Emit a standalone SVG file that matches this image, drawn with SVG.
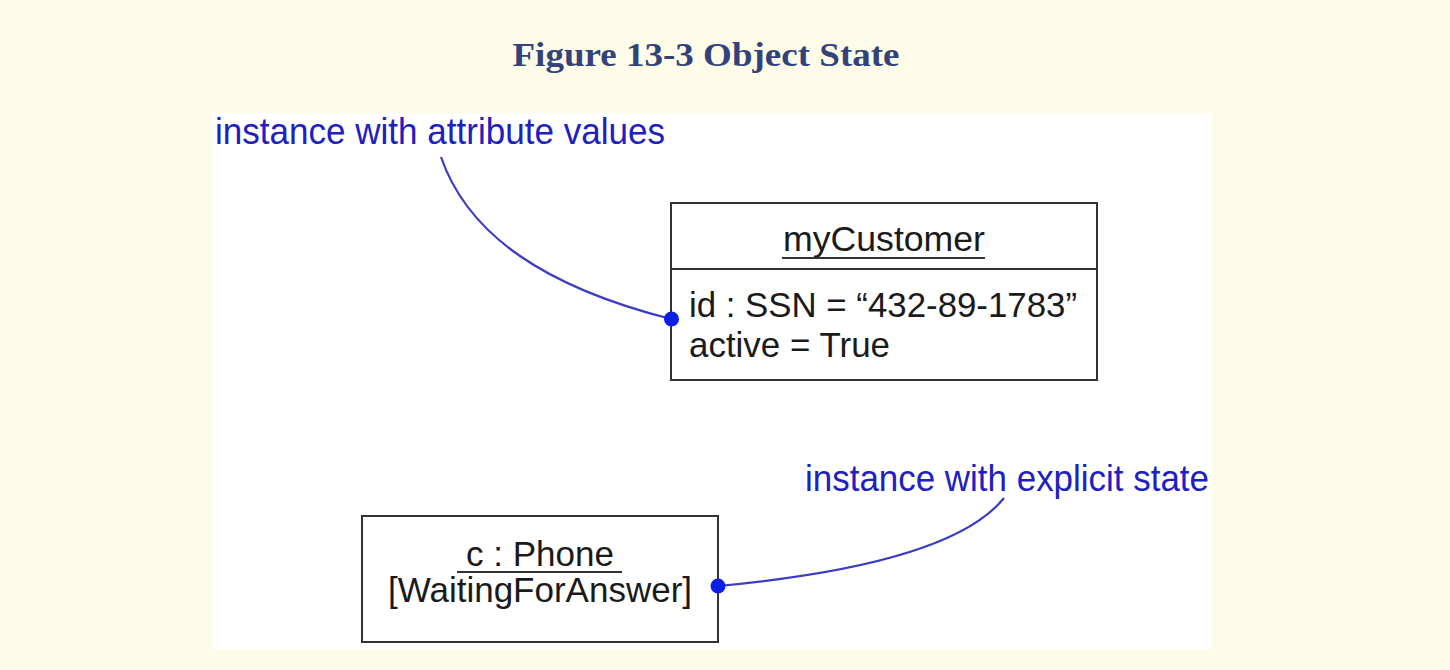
<svg xmlns="http://www.w3.org/2000/svg" width="1450" height="670" viewBox="0 0 1450 670">
  <style>
    .title { font-family: "Liberation Serif", "DejaVu Serif", serif; font-weight: bold; font-size: 34px; fill: #33437a; }
    .note { font-family: "Liberation Sans", Arial, sans-serif; font-size: 36px; fill: #2020c0; }
    .txt { font-family: "Liberation Sans", Arial, sans-serif; font-size: 35px; fill: #1a1a1a; }
    .box { fill: #ffffff; stroke: #333333; stroke-width: 2; }
    .ul { stroke: #333333; stroke-width: 2; }
    .conn { fill: none; stroke: #3b3bc4; stroke-width: 2.2; }
    .dot { fill: #0a1fe6; }
  </style>
  <rect x="0" y="0" width="1450" height="670" fill="#fefce9"/>
  <rect x="212" y="113" width="1000" height="536" fill="#ffffff"/>
  <text class="title" x="706" y="66" text-anchor="middle" textLength="387" lengthAdjust="spacingAndGlyphs">Figure 13-3 Object State</text>

  <g id="note-attr">
    <text class="note" x="215" y="144" textLength="450" lengthAdjust="spacingAndGlyphs">instance with attribute values</text>
  </g>
  <g id="note-state">
    <text class="note" x="805" y="491" textLength="404" lengthAdjust="spacingAndGlyphs">instance with explicit state</text>
  </g>

  <g id="myCustomer">
    <rect class="box" x="671" y="203" width="426" height="177"/>
    <line class="ul" x1="671" y1="269" x2="1097" y2="269"/>
    <text class="txt" x="884" y="251" text-anchor="middle" textLength="202" lengthAdjust="spacingAndGlyphs">myCustomer</text>
    <line class="ul" x1="782" y1="258" x2="985" y2="258"/>
    <text class="txt" x="689" y="317" textLength="388" lengthAdjust="spacingAndGlyphs">id : SSN = “432-89-1783”</text>
    <text class="txt" x="689" y="357" textLength="201" lengthAdjust="spacingAndGlyphs">active = True</text>
  </g>

  <g id="phone">
    <rect class="box" x="362" y="516" width="356" height="126"/>
    <text class="txt" x="540" y="566" text-anchor="middle" textLength="148" lengthAdjust="spacingAndGlyphs">c : Phone</text>
    <line class="ul" x1="457" y1="572" x2="622" y2="572"/>
    <text class="txt" x="540" y="602" text-anchor="middle" textLength="304" lengthAdjust="spacingAndGlyphs">[WaitingForAnswer]</text>
  </g>

  <g id="connectors">
    <path class="conn" d="M441,157 C468,235 545,287 671,319"/>
    <circle class="dot" cx="671.5" cy="319" r="7.5"/>
    <path class="conn" d="M1004,498 C968,543 868,572 718,586"/>
    <circle class="dot" cx="718" cy="586" r="7.5"/>
  </g>
</svg>
